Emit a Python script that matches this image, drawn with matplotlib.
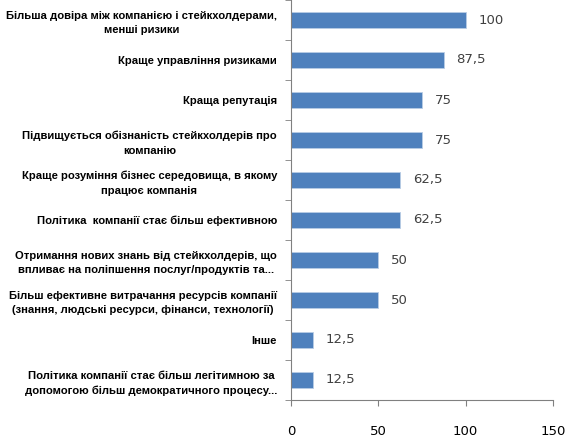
import matplotlib
matplotlib.use("Agg")
import matplotlib.pyplot as plt

categories = [
    "Більша довіра між компанією і стейкхолдерами,\nменші ризики",
    "Краще управління ризиками",
    "Краща репутація",
    "Підвищується обізнаність стейкхолдерів про\nкомпанію",
    "Краще розуміння бізнес середовища, в якому\nпрацює компанія",
    "Політика  компанії стає більш ефективною",
    "Отримання нових знань від стейкхолдерів, що\nвпливає на поліпшення послуг/продуктів та...",
    "Більш ефективне витрачання ресурсів компанії\n(знання, людські ресурси, фінанси, технології)",
    "Інше",
    "Політика компанії стає більш легітимною за\nдопомогою більш демократичного процесу...",
]
values = [100, 87.5, 75, 75, 62.5, 62.5, 50, 50, 12.5, 12.5]
value_labels = ["100", "87,5", "75", "75", "62,5", "62,5", "50", "50", "12,5", "12,5"]
xticks = [0, 50, 100, 150]

fig = plt.figure(figsize=(5.66, 4.41), dpi=100)
ax = fig.add_axes([291 / 566, 1 - 400 / 441, (553 - 291) / 566, 400 / 441])

n = len(categories)
pos = list(range(n))
ax.barh(pos, values, height=0.4, color="#4F81BD", edgecolor="#B9CDE5", linewidth=0.6)
ax.set_ylim(n - 0.5, -0.5)
ax.set_xlim(0, 150)

for p, v, lab in zip(pos, values, value_labels):
    ax.annotate(lab, (v, p), xytext=(9, 0), textcoords="offset points",
                va="center", ha="left", fontsize=9.5, color="#404040",
                family="DejaVu Sans")

ax.set_yticks(pos)
ax.set_yticklabels(categories, fontsize=8.1, fontweight="bold",
                   family="Liberation Sans", multialignment="center",
                   linespacing=1.55)
ax.tick_params(axis="y", length=0, pad=10)
ax.set_yticks([i + 0.5 for i in range(-1, n)], minor=True)
ax.tick_params(axis="y", which="minor", length=4, color="#808080", direction="out")

ax.set_xticks(xticks)
ax.set_xticklabels([str(t) for t in xticks], fontsize=9.5, family="DejaVu Sans")
ax.tick_params(axis="x", length=4, color="#808080", pad=14)

for s in ["top", "right"]:
    ax.spines[s].set_visible(False)
for s in ["left", "bottom"]:
    ax.spines[s].set_color("#808080")
    ax.spines[s].set_linewidth(0.8)

fig.savefig("out.png", dpi=100)
